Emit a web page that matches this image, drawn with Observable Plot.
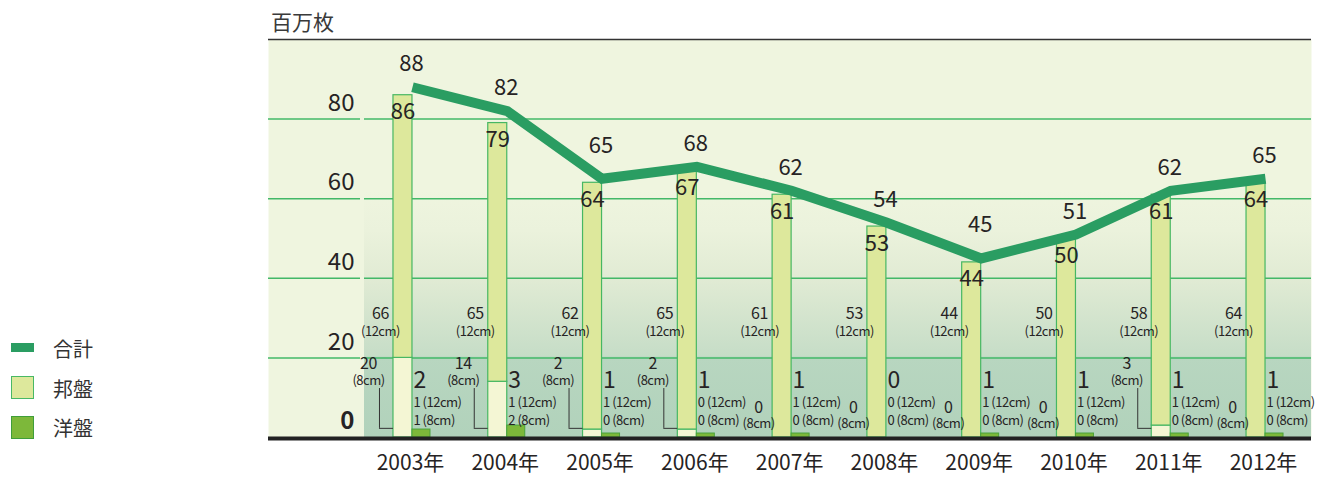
<!DOCTYPE html>
<html><head><meta charset="utf-8">
<script src="https://cdn.jsdelivr.net/npm/d3@7"></script>
<script src="https://cdn.jsdelivr.net/npm/@observablehq/plot@0.6"></script>
<style>
body{margin:0;background:#fff;font-family:"Noto Sans CJK JP","Noto Sans",sans-serif;}
#wrap{position:relative;width:1326px;height:477px;overflow:hidden;}
#chart{position:absolute;left:0;top:0;}
#title{position:absolute;left:271px;top:6px;font-size:21px;line-height:30px;color:#3a3a3a;}
.sw{position:absolute;left:11px;width:23px;box-sizing:border-box;}
.lt{position:absolute;left:53px;font-size:20px;line-height:28px;color:#333;}
#chart g[font-size="13"] text{letter-spacing:-0.5px;}
#chart g[font-size="16"] text{letter-spacing:-0.3px;}
</style></head><body>
<div id="wrap">
  <div id="chart"></div>
  <div id="title">百万枚</div>
  <div class="sw" style="top:343px;height:9px;background:#2a9d62;"></div>
  <div class="lt" style="top:335px;">合計</div>
  <div class="sw" style="top:376px;height:23px;background:#dde89c;border:1.5px solid #48b865;"></div>
  <div class="lt" style="top:375px;">邦盤</div>
  <div class="sw" style="top:416px;height:23px;background:#7db83a;border:1.5px solid #3f9e3a;"></div>
  <div class="lt" style="top:414px;">洋盤</div>
</div>
<script>
// ---- data ----
const years      = [2003, 2004, 2005, 2006, 2007, 2008, 2009, 2010, 2011, 2012];
const total      = [88, 82, 65, 68, 62, 54, 45, 51, 62, 65];
const domestic   = [86, 79, 64, 67, 61, 53, 44, 50, 61, 64];
const domestic12 = [66, 65, 62, 65, 61, 53, 44, 50, 58, 64];
const domestic8  = [20, 14, 2, 2, 0, 0, 0, 0, 3, 0];
const foreign    = [2, 3, 1, 1, 1, 0, 1, 1, 1, 1];
const foreign12  = [1, 1, 1, 0, 1, 0, 1, 1, 1, 1];
const foreign8   = [1, 2, 0, 0, 0, 0, 0, 0, 0, 0];
const yTicks     = [0, 20, 40, 60, 80];
const yearSuffix = "年";
const unitLabel12 = "(12cm)";
const unitLabel8  = "(8cm)";

const rows = years.map((year, i) => ({
  year, total: total[i], dom: domestic[i], d12: domestic12[i], d8: domestic8[i],
  fr: foreign[i], f12: foreign12[i], f8: foreign8[i]
}));
rows.forEach((r, i) => {
  const prev = rows[i - 1], next = rows[i + 1];
  r.isMin = !!(prev && next && r.total < prev.total && r.total < next.total);
});

// ---- layout ----
const W = 1326, H = 477, mL = 268, mR = 15, mT = 39, mB = 40;
const xDomain = [2001.481, 2012.485];
const pxU = (xDomain[1] - xDomain[0]) / (W - mL - mR); // year units per pixel
const barW = 19 * pxU, fBarW = 18 * pxU;
const shadeStart = xDomain[0] + 96 * pxU;
const gapStart = xDomain[0] + 92 * pxU;

const txt = "#262324";
const gridC = "#43b868";
const barStroke = "#46b763";
const font = '"Noto Sans CJK JP","Noto Sans",sans-serif';

function shade(index, scales, values, dim) {
  const g = d3.create("svg:g");
  const top = 62;
  const lg = g.append("defs").append("linearGradient")
    .attr("id", "shadeGrad").attr("x1", 0).attr("y1", 0).attr("x2", 0).attr("y2", 1);
  const stops = [[62, "#eff5df"], [52, "#ebf2dc"], [40, "#e1ebd4"], [20.4, "#c6ddc7"], [20, "#b8d6c0"], [0, "#b1d2bb"]];
  stops.forEach(([v, c]) => lg.append("stop").attr("offset", (top - v) / top).attr("stop-color", c));
  const x0 = scales.x(shadeStart), x1 = dim.width - dim.marginRight;
  const y0 = scales.y(top), y1 = scales.y(0);
  g.append("rect").attr("x", x0).attr("y", y0).attr("width", x1 - x0).attr("height", y1 - y0)
    .attr("fill", "url(#shadeGrad)");
  return g.node();
}

const nz8 = rows.filter(d => d.d8 > 0);
const z8 = rows.filter(d => d.d8 === 0);

const chart = Plot.plot({
  width: W, height: H,
  marginLeft: mL, marginRight: mR, marginTop: mT, marginBottom: mB,
  x: {type: "linear", domain: xDomain, axis: null},
  y: {domain: [0, 100], axis: null},
  style: {fontFamily: font, background: "transparent", overflow: "visible", color: txt},
  marks: [
    Plot.frame({fill: "#eff5df", stroke: "none"}),
    shade,
    // grid
    Plot.ruleY(yTicks.filter(d => d > 0), {x1: xDomain[0], x2: gapStart, stroke: gridC, strokeWidth: 1.5}),
    Plot.ruleY(yTicks.filter(d => d > 0), {x1: shadeStart, x2: xDomain[1], stroke: gridC, strokeWidth: 1.5}),
    Plot.ruleY([100], {stroke: "#333", strokeWidth: 1.5}),
    // domestic bars (8cm bottom, 12cm top)
    Plot.rect(rows.filter(d => d.d8 > 0), {x1: d => d.year - barW, x2: d => d.year, y1: 0, y2: d => d.d8,
      fill: "#f4f6d4", stroke: barStroke, strokeWidth: 1.2}),
    Plot.rect(rows, {x1: d => d.year - barW, x2: d => d.year, y1: d => d.d8, y2: d => d.dom,
      fill: "#dde89c", stroke: barStroke, strokeWidth: 1.2}),
    // foreign bars
    Plot.rect(rows.filter(d => d.fr > 0), {x1: d => d.year, x2: d => d.year + fBarW, y1: 0, y2: d => d.fr,
      fill: "#7db83a", stroke: "#4aa23a", strokeWidth: 1}),
    // leader lines for nonzero 8cm
    Plot.ruleX(nz8, {x: d => d.year - barW - 14 * pxU, y1: 2.3, y2: 12.3, stroke: "#333", strokeWidth: 1}),
    Plot.ruleY(nz8, {y: 2.3, x1: d => d.year - barW - 14 * pxU, x2: d => d.year - barW, stroke: "#333", strokeWidth: 1}),
    // total line
    Plot.line(rows, {x: "year", y: "total", stroke: "#2a9d62", strokeWidth: 10,
      strokeLinejoin: "miter", strokeLinecap: "butt", strokeMiterlimit: 10}),
    // total labels
    Plot.text(rows.filter(d => !d.isMin), {x: "year", y: "total", text: d => String(d.total), dx: -1, dy: -23, fontSize: 22, fill: txt}),
    Plot.text(rows.filter(d => d.isMin), {x: "year", y: "total", text: d => String(d.total), dx: -1, dy: -33, fontSize: 22, fill: txt}),
    // domestic total labels inside bar top
    Plot.text(rows, {x: d => d.year - barW / 2, y: "dom", text: d => String(d.dom), dy: 17, fontSize: 22, fill: txt}),
    // 12cm labels
    Plot.text(rows, {x: d => d.year - barW, y: 31, dx: -13, text: d => String(d.d12), fontSize: 16, fill: txt}),
    Plot.text(rows, {x: d => d.year - barW, y: 31, dx: -13, dy: 18, text: () => unitLabel12, fontSize: 13, fill: txt}),
    // 8cm labels (nonzero)
    Plot.text(nz8, {x: d => d.year - barW, y: 0, dx: -25, dy: -74, text: d => String(d.d8), fontSize: 16, fill: txt}),
    Plot.text(nz8, {x: d => d.year - barW, y: 0, dx: -25, dy: -57, text: () => unitLabel8, fontSize: 13, fill: txt}),
    // 8cm labels (zero)
    Plot.text(z8, {x: d => d.year - barW, y: 0, dx: -14, dy: -30, text: d => String(d.d8), fontSize: 16, fill: txt}),
    Plot.text(z8, {x: d => d.year - barW, y: 0, dx: -14, dy: -14, text: () => unitLabel8, fontSize: 13, fill: txt}),
    // foreign labels
    Plot.text(rows, {x: "year", y: 0, dx: 1, dy: -57, textAnchor: "start", text: d => String(d.fr), fontSize: 23, fill: txt}),
    Plot.text(rows, {x: "year", y: 0, dx: 1, dy: -35, textAnchor: "start", text: d => `${d.f12} ${unitLabel12}`, fontSize: 13, fill: txt}),
    Plot.text(rows, {x: "year", y: 0, dx: 1, dy: -17, textAnchor: "start", text: d => `${d.f8} ${unitLabel8}`, fontSize: 13, fill: txt}),
    // y tick labels
    Plot.text(yTicks.filter(d => d > 0), {frameAnchor: "left", y: d => d, dx: 86, dy: -16, textAnchor: "end", text: d => String(d), fontSize: 24, fill: txt}),
    Plot.text([0], {frameAnchor: "left", y: d => d, dx: 86, dy: -16, textAnchor: "end", text: d => String(d), fontSize: 24, fontWeight: "bold", fill: txt}),
    // bottom axis line
    Plot.ruleY([0], {stroke: "#222", strokeWidth: 4, dy: 1}),
    // x labels
    Plot.text(rows, {x: "year", y: 0, dx: -2, dy: 26, text: d => d.year + yearSuffix, fontSize: 21, fill: txt})
  ]
});
document.getElementById("chart").appendChild(chart);
</script>
</body></html>
